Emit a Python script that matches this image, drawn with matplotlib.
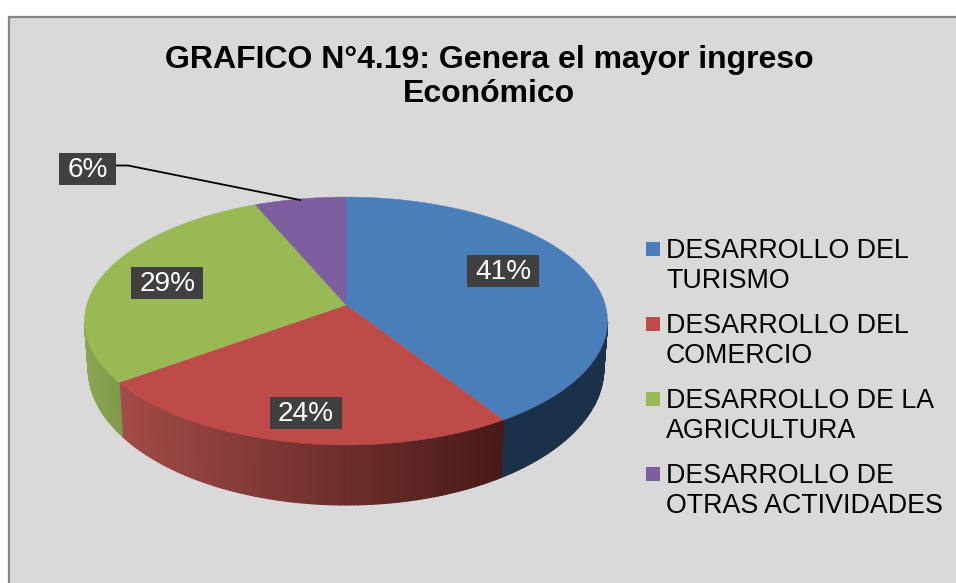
#!/usr/bin/env python3
# -*- coding: utf-8 -*-
import numpy as np
import matplotlib
matplotlib.use('agg')
import matplotlib.pyplot as plt
from matplotlib.patches import Polygon, Rectangle
from matplotlib.collections import PolyCollection
from matplotlib.colors import to_rgb

plt.rcParams['font.family'] = ['Liberation Sans', 'DejaVu Sans']

title = 'GRAFICO N°4.19: Genera el mayor ingreso\nEconómico'
values = [40.9, 24.1, 28.6, 6.4]
labels = ['41%', '24%', '29%', '6%']
legend_labels = ['DESARROLLO DEL\nTURISMO', 'DESARROLLO DEL\nCOMERCIO',
                 'DESARROLLO DE LA\nAGRICULTURA', 'DESARROLLO DE\nOTRAS ACTIVIDADES']

top_colors = ['#4a7ebb', '#be4b48', '#98b954', '#7d5fa0']
wall_left = ['#1b3049', '#a34b48', '#8aa552', '#5d4778']
wall_right = ['#1b3049', '#471a18', '#7f9a4a', '#5d4778']

# perspective of the disc, in pixels
cx, cy = 346, 305
k = 0.129
a_top, b_top = 121.9, 259.3
a_bot, b_bot, c_bot = 134.0, 255.5, 351.0


def rim(theta, a, b, c):
    u, v = np.sin(theta), -np.cos(theta)
    d = 1 - k * v
    return cx + b * u / d, c + a * v / d


f = plt.figure(figsize=(9.56, 5.83), dpi=100, facecolor='white')
ax = f.add_axes([0, 0, 1, 1])
ax.set_xlim(0, 956)
ax.set_ylim(583, 0)
ax.axis('off')

ax.add_patch(Rectangle((9, 16.5), 960, 580, fc='#d9d9d9', ec='#868686', lw=1.6))

edges = np.cumsum([0] + values) / sum(values) * 2 * np.pi

# side wall
for i in range(len(values)):
    th = np.linspace(edges[i], edges[i + 1], int(values[i] * 4) + 2)
    th = th[-np.cos(th) >= k]
    if len(th) < 2:
        continue
    xt, yt = rim(th, a_top, b_top, cy)
    xb, yb = rim(th, a_bot, b_bot, c_bot)
    segs, cols = [], []
    c0, c1 = np.array(to_rgb(wall_left[i])), np.array(to_rgb(wall_right[i]))
    xmin, xmax = xt.min(), xt.max()
    for j in range(len(th) - 1):
        segs.append([(xt[j], yt[j]), (xt[j + 1], yt[j + 1]), (xb[j + 1], yb[j + 1]), (xb[j], yb[j])])
        w = (0.5 * (xt[j] + xt[j + 1]) - xmin) / max(xmax - xmin, 1)
        cols.append(c0 + (c1 - c0) * w)
    ax.add_collection(PolyCollection(segs, facecolors=cols, edgecolors=cols, linewidths=1.0))

# top of the pie
for i in range(len(values)):
    th = np.linspace(edges[i], edges[i + 1], 200)
    x, y = rim(th, a_top, b_top, cy)
    pts = np.column_stack([np.r_[cx, x], np.r_[cy, y]])
    ax.add_patch(Polygon(pts, closed=True, fc=top_colors[i], ec=top_colors[i], lw=0.3))

# leader line for the small slice
ax.plot([116, 128, 300], [165.5, 165.5, 200], color='black', lw=1.3, solid_joinstyle='miter')

# data labels
label_x = [503, 306, 167.5, 87.5]
label_y = [271, 413, 283, 169]
for s, x, y in zip(labels, label_x, label_y):
    hw = 36 if len(s) > 2 else 28.5
    ax.add_patch(Rectangle((x - hw, y - 16), 2 * hw, 32, fc='#404040', ec='none', zorder=5))
    ax.text(x, y + 1, s, color='white', fontsize=20.2, ha='center', va='center', zorder=6)

ax.text(489, 77, title, fontsize=23.0, fontweight='bold', color='black', ha='center',
        va='center', linespacing=1.2)

# legend
leg_y = [242, 317, 392, 467]
for s, y, c in zip(legend_labels, leg_y, top_colors):
    ax.add_patch(Rectangle((646, y), 14, 14, fc=c, ec='none'))
    ax.text(666, y - 4, s, fontsize=19.3, color='black', ha='left', va='top', linespacing=1.21)

plt.savefig('out.png', dpi=100)
